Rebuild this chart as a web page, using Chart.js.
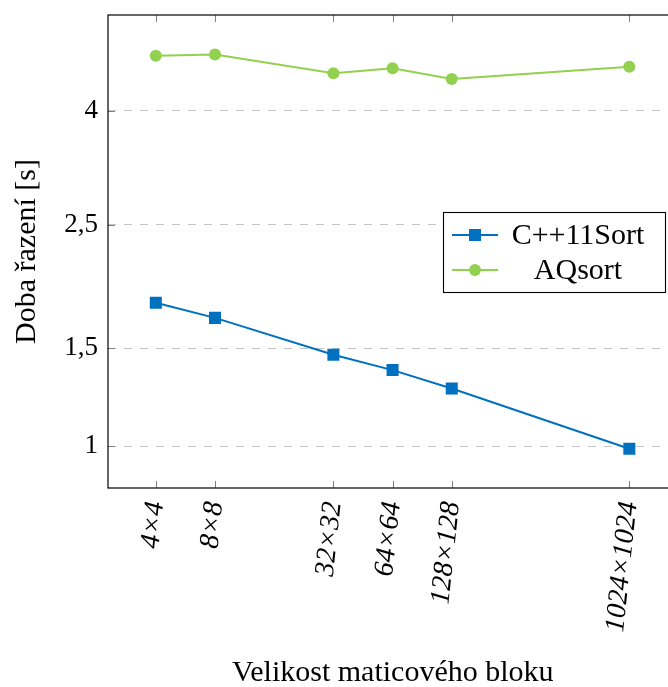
<!DOCTYPE html>
<html lang="cs">
<head>
<meta charset="utf-8">
<title>Doba řazení podle velikosti maticového bloku</title>
<script src="https://cdn.jsdelivr.net/npm/chart.js@4/dist/chart.umd.min.js"></script>
<style>
  html, body { margin: 0; padding: 0; background: #ffffff; overflow: hidden; }
  #wrap { width: 686px; height: 687px; }
</style>
</head>
<body>
<div id="wrap"><canvas id="chart" width="686" height="687"></canvas></div>
<script>
// Block sizes (matrix is n×n) and sort times in seconds
const blockSizes = [4, 8, 32, 64, 128, 1024];
const xTickLabels = ['4×4', '8×8', '32×32', '64×64', '128×128', '1024×1024'];
const cppSort = [1.81, 1.70, 1.46, 1.37, 1.27, 0.99];
const aqSort = [5.02, 5.05, 4.67, 4.77, 4.56, 4.80];
const yTickValues = [1, 1.5, 2.5, 4];
const yTickLabels = ['1', '1,5', '2,5', '4'];

const seriesNames = ['C++11Sort', 'AQsort'];
const BLUE = '#0070c0';
const GREEN = '#92d050';
const SERIF = '"Liberation Serif", "DejaVu Serif", serif';

const toPoints = (vals) => vals.map((v, i) => ({ x: blockSizes[i], y: v }));

// Scales keep no extra room for overhanging labels; layout padding decides the plot box
function noLabelPadding(scale) {
  scale.paddingTop = 0;
  scale.paddingBottom = 0;
  scale.paddingLeft = 0;
  scale.paddingRight = 0;
}

// Frame, inward tick marks and the boxed legend
const framePlugin = {
  id: 'frameTicksLegend',
  afterDraw(chart) {
    const { ctx, chartArea: a, scales } = chart;
    const tickLen = 7;
    ctx.save();
    ctx.strokeStyle = '#808080';
    ctx.lineWidth = 1;
    ctx.beginPath();
    blockSizes.forEach(v => {
      const x = Math.round(scales.x.getPixelForValue(v)) + 0.5;
      ctx.moveTo(x, a.bottom); ctx.lineTo(x, a.bottom - tickLen);
      ctx.moveTo(x, a.top); ctx.lineTo(x, a.top + tickLen);
    });
    yTickValues.forEach(v => {
      const y = Math.round(scales.y.getPixelForValue(v)) + 0.5;
      ctx.moveTo(a.left, y); ctx.lineTo(a.left + tickLen, y);
      ctx.moveTo(a.right, y); ctx.lineTo(a.right - tickLen, y);
    });
    ctx.stroke();

    ctx.strokeStyle = '#000000';
    ctx.lineWidth = 1.2;
    ctx.strokeRect(a.left, a.top, a.right - a.left, a.bottom - a.top);

    // legend box
    const w = 222, h = 80;
    const bx = Math.round(a.right - 13 - w);
    const by = Math.round((a.top + a.bottom) / 2 - h / 2);
    ctx.fillStyle = '#ffffff';
    ctx.fillRect(bx, by, w, h);
    ctx.strokeStyle = '#000000';
    ctx.lineWidth = 1.1;
    ctx.strokeRect(bx + 0.5, by + 0.5, w, h);

    chart.data.datasets.forEach((ds, i) => {
      const cy = by + 23 + i * 35;
      ctx.strokeStyle = ds.borderColor;
      ctx.lineWidth = 2;
      ctx.beginPath();
      ctx.moveTo(bx + 9, cy); ctx.lineTo(bx + 55, cy);
      ctx.stroke();
      ctx.fillStyle = ds.backgroundColor;
      if (ds.pointStyle === 'rect') {
        ctx.fillRect(bx + 32 - 6, cy - 6, 12, 12);
      } else {
        ctx.beginPath();
        ctx.arc(bx + 32, cy, 6, 0, Math.PI * 2);
        ctx.fill();
      }
      ctx.fillStyle = '#000000';
      ctx.font = '30px ' + SERIF;
      ctx.textAlign = 'center';
      ctx.textBaseline = 'middle';
      ctx.fillText(ds.label, bx + 135, cy + 1);
    });
    ctx.restore();
  }
};

new Chart(document.getElementById('chart'), {
  type: 'line',
  data: {
    datasets: [
      {
        label: seriesNames[0],
        data: toPoints(cppSort),
        borderColor: BLUE,
        backgroundColor: BLUE,
        borderWidth: 2,
        pointStyle: 'rect',
        pointRadius: 8.5,
        pointBorderWidth: 0,
        tension: 0
      },
      {
        label: seriesNames[1],
        data: toPoints(aqSort),
        borderColor: GREEN,
        backgroundColor: GREEN,
        borderWidth: 2,
        pointStyle: 'circle',
        pointRadius: 6,
        pointBorderWidth: 0,
        tension: 0
      }
    ]
  },
  options: {
    responsive: false,
    animation: false,
    devicePixelRatio: 1,
    layout: { padding: { left: 0, top: 15, right: 2, bottom: 0 } },
    plugins: { legend: { display: false }, tooltip: { enabled: false } },
    scales: {
      x: {
        type: 'logarithmic',
        min: 2.285,
        max: 1800,
        afterBuildTicks(scale) { scale.ticks = blockSizes.map(v => ({ value: v })); },
        afterFit(scale) { scale.height = 199; noLabelPadding(scale); },
        grid: { display: false, drawTicks: false },
        border: { display: false },
        ticks: {
          autoSkip: false,
          minRotation: 84,
          maxRotation: 84,
          padding: 12,
          color: '#000000',
          font: { family: SERIF, size: 28, style: 'italic' },
          callback: (v, i) => xTickLabels[i]
        },
        title: {
          display: true,
          text: 'Velikost maticového bloku',
          color: '#000000',
          font: { family: SERIF, size: 30 },
          padding: { top: 0, bottom: -4 }
        }
      },
      y: {
        type: 'logarithmic',
        min: 0.8417,
        max: 5.943,
        afterBuildTicks(scale) { scale.ticks = yTickValues.map(v => ({ value: v })); },
        afterFit(scale) { scale.width = 108; noLabelPadding(scale); },
        grid: { color: '#c4c4c4', lineWidth: 1, drawTicks: false },
        border: { display: false, dash: [8, 8] },
        ticks: {
          padding: 10,
          color: '#000000',
          font: { family: SERIF, size: 27 },
          callback: (v, i) => yTickLabels[i]
        },
        title: {
          display: true,
          text: 'Doba řazení [s]',
          color: '#000000',
          font: { family: SERIF, size: 30 },
          padding: { top: 9, bottom: 0 }
        }
      }
    }
  },
  plugins: [framePlugin]
});
</script>
</body>
</html>
